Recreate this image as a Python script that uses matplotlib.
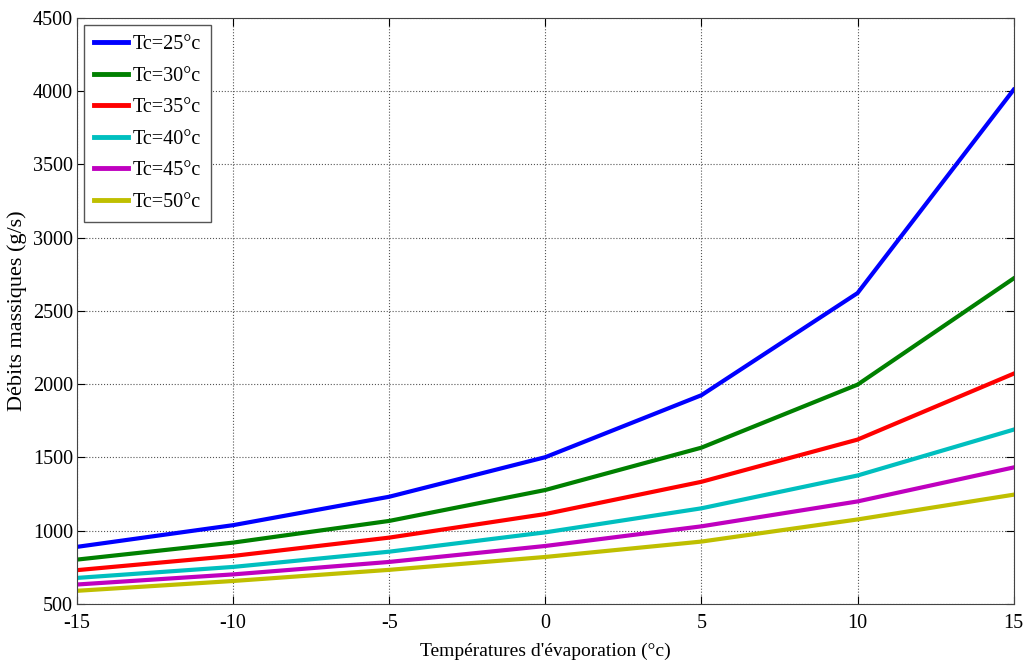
import numpy as np
import matplotlib
matplotlib.use('Agg')
import matplotlib.pyplot as plt

plt.rcParams['font.family'] = ['Liberation Serif', 'DejaVu Serif']
plt.rcParams['axes.unicode_minus'] = False

# températures d'évaporation (°c)
t_evap = [-15, -10, -5, 0, 5, 10, 15]

# débits massiques (g/s) pour chaque Tc
tc25 = [890, 1038, 1232, 1502, 1925, 2622, 4010]
tc30 = [803, 919, 1067, 1278, 1567, 1997, 2722]
tc35 = [731, 828, 953, 1114, 1334, 1622, 2072]
tc40 = [678, 753, 857, 989, 1153, 1377, 1690]
tc45 = [633, 702, 787, 896, 1030, 1200, 1432]
tc50 = [590, 657, 733, 821, 926, 1077, 1246]

labels = ['Tc=25°c', 'Tc=30°c', 'Tc=35°c', 'Tc=40°c', 'Tc=45°c', 'Tc=50°c']
couleurs = ['#0000ff', '#008000', '#ff0000', '#00bfbf', '#bf00bf', '#bfbf00']

fig = plt.figure(figsize=(10.27, 6.63), dpi=100)
ax = fig.add_axes([0.075, 0.089, 0.912, 0.884])

for serie, lab, c in zip([tc25, tc30, tc35, tc40, tc45, tc50], labels, couleurs):
    ax.plot(t_evap, serie, color=c, lw=3.0, label=lab)

ax.set_xlim(-15, 15)
ax.set_ylim(500, 4500)
ax.set_xticks(np.arange(-15, 16, 5))
ax.set_yticks(np.arange(500, 4501, 500))
ax.grid(True, linestyle=':', color='#555555', lw=0.8)
ax.tick_params(direction='in', labelsize=14.5, length=6, top=True, right=True)
ax.tick_params(axis='x', pad=7)
ax.tick_params(axis='y', pad=3)
for s in ax.spines.values():
    s.set_color('#444444')

ax.set_xlabel("Températures d'évaporation (°c)", fontsize=14, labelpad=7)
ax.set_ylabel("Débits massiques (g/s)", fontsize=16, labelpad=4)

leg = ax.legend(loc='upper left', fontsize=14.5, fancybox=False, edgecolor='#555555',
                framealpha=1, handlelength=1.7, handletextpad=0.2, borderaxespad=0.35,
                labelspacing=0.62, borderpad=0.5)
leg.get_frame().set_linewidth(1.0)
for l in leg.get_lines():
    l.set_linewidth(3.5)

fig.savefig('out.png', dpi=100)
